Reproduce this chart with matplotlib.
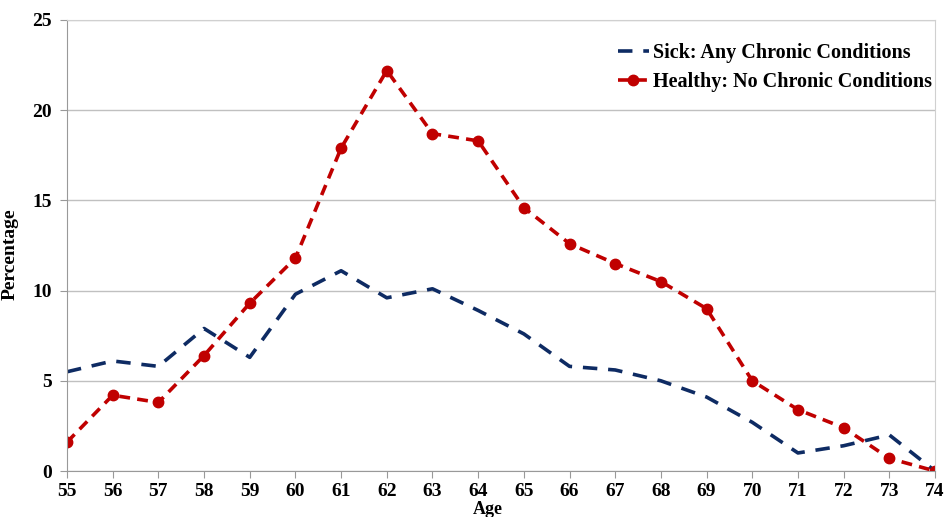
import numpy as np
import matplotlib.pyplot as plt

ages = list(range(55, 75))
sick = [5.5, 6.1, 5.8, 7.9, 6.3, 9.8, 11.1, 9.6, 10.1, 8.9, 7.6, 5.8, 5.6, 5.0, 4.1, 2.7, 1.0, 1.4, 2.0, 0.0]
healthy = [1.6, 4.2, 3.8, 6.4, 9.3, 11.8, 17.9, 22.2, 18.7, 18.3, 14.6, 12.6, 11.5, 10.5, 9.0, 5.0, 3.4, 2.4, 0.7, 0.0]
yticks = [0, 5, 10, 15, 20, 25]

plt.rcParams['font.family'] = ['Liberation Serif', 'DejaVu Serif']
plt.rcParams['font.weight'] = 'bold'

fig = plt.figure(figsize=(9.44, 5.17), dpi=100)
ax = fig.add_axes([67/944, 1-471/517, (935-67)/944, (471-20)/517])

ax.plot(ages, sick, color='#0e2b63', lw=2.6, ls=(0, (4, 3)),
        label='Sick: Any Chronic Conditions')
ax.plot(ages, healthy, color='#c00000', lw=2.6, ls=(0, (3, 2)),
        marker='o', ms=7.5, label='Healthy: No Chronic Conditions')

ax.set_xlim(55, 74)
ax.set_ylim(0, 25)
ax.set_xticks(ages)
ax.set_yticks(yticks)
ax.grid(axis='y', color='#c0c0c0', lw=1)
ax.set_axisbelow(True)
for s in ['top', 'right']:
    ax.spines[s].set_color('#d0d0d0')
for s in ['left', 'bottom']:
    ax.spines[s].set_color('#999999')
ax.tick_params(axis='x', length=5, color='#999999', labelsize=14, pad=4)
ax.tick_params(axis='y', length=5, color='#999999', labelsize=14, pad=6)

ax.set_xlabel('Age', fontsize=13, fontweight='bold')
ax.xaxis.set_label_coords((488-67)/868, -30/451)
ax.set_ylabel('Percentage', fontsize=14, fontweight='bold')
ax.yaxis.set_label_coords(-0.056, 0.48)

leg = ax.legend(loc='upper right', bbox_to_anchor=(1.017, 0.99), frameon=False,
                fontsize=14.5, handlelength=1.5, handletextpad=0.2, labelspacing=0.45)

fig.savefig('out.png', dpi=100)
